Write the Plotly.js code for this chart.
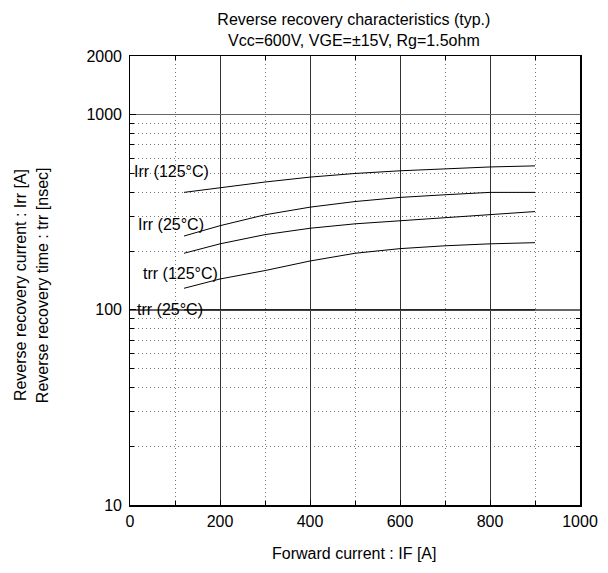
<!DOCTYPE html>
<html><head><meta charset="utf-8">
<script src="https://cdn.plot.ly/plotly-3.0.1.min.js"></script>
<style>body{margin:0;background:#fff}#c{width:608px;height:573px}</style>
</head><body><div id="c"></div>
<script>
const forwardCurrent = [120, 200, 300, 400, 500, 600, 700, 800, 900];
const irr125 = [400, 424, 452, 479, 500, 516, 530, 540, 547];
const irr25 = [239, 270, 307, 336, 359, 377, 389, 400, 400];
const trr125 = [195, 218, 243, 262, 276, 286, 297, 307, 319];
const trr25curve = [129, 144, 159, 178, 195, 206, 213, 218, 221];
const trr25flat = [100, 100, 100, 100, 100, 100, 100, 100, 100];
const yMajor = [10, 100, 1000, 2000];
const yMinor = [20,30,40,50,60,70,80,90,200,300,400,500,600,700,800,900];
const xMajor = [0, 200, 400, 600, 800, 1000];
const xMinor = [100, 300, 500, 700, 900];

const lineStyle = {color: '#000', width: 1};
const traces = [irr125, irr25, trr125, trr25curve, trr25flat].map(v => ({
  x: forwardCurrent, y: v, type: 'scatter', mode: 'lines', line: lineStyle, hoverinfo: 'none', xaxis: 'x', yaxis: 'y'
}));
traces.push({x: [500], y: [100], type: 'scatter', mode: 'markers', marker: {opacity: 0}, xaxis: 'x2', yaxis: 'y2', hoverinfo: 'none'});

const font = {family: 'Liberation Sans, Arial, sans-serif', size: 16, color: '#000'};
const labels = [
  {t: 'Irr (125°C)', x: 5, y: 511},
  {t: 'Irr (25°C)', x: 14, y: 273},
  {t: 'trr (125°C)', x: 25, y: 153},
  {t: 'trr (25°C)', x: 12, y: 100}
];
const annotations = labels.map(l => ({
  text: l.t, x: l.x, y: Math.log10(l.y), xref: 'x', yref: 'y',
  xanchor: 'left', yanchor: 'middle', showarrow: false, font: font
}));
annotations.push({
  text: 'Reverse recovery current : Irr [A]', xref: 'paper', yref: 'paper',
  x: -0.242, y: 0.49, textangle: -90, showarrow: false, font: font, xanchor: 'center', yanchor: 'middle'
});
annotations.push({
  text: 'Reverse recovery time : trr [nsec]', xref: 'paper', yref: 'paper',
  x: -0.193, y: 0.49, textangle: -90, showarrow: false, font: font, xanchor: 'center', yanchor: 'middle'
});
annotations.push({
  text: 'Forward current : IF [A]', xref: 'paper', yref: 'paper',
  x: 0.498, y: -0.107, showarrow: false, font: font, xanchor: 'center', yanchor: 'middle'
});

const yr = [1, Math.log10(2000)];
const layout = {
  width: 608, height: 573,
  margin: {l: 130, r: 28, t: 56, b: 68},
  paper_bgcolor: '#fff', plot_bgcolor: '#fff',
  showlegend: false,
  font: font,
  title: {
    text: 'Reverse recovery characteristics (typ.)<br>Vcc=600V, VGE=±15V, Rg=1.5ohm',
    font: font, x: 0.582, xanchor: 'center', y: 0.9555, yanchor: 'middle', yref: 'container'
  },
  xaxis: {
    range: [0, 1000], tickmode: 'array', tickvals: xMinor, ticktext: xMinor.map(() => ''),
    showgrid: true, gridcolor: '#777', gridwidth: 1, griddash: '1px,3px',
    showline: true, linecolor: '#000', linewidth: 1.5, mirror: 'allticks',
    ticks: 'inside', ticklen: 4, tickcolor: '#000', zeroline: false
  },
  xaxis2: {
    overlaying: 'x', side: 'bottom', range: [0, 1000], tickmode: 'array', tickvals: xMajor, ticktext: xMajor.map(String),
    showgrid: true, gridcolor: '#333', gridwidth: 1,
    showline: false, ticks: 'inside', ticklen: 5, tickcolor: '#000', zeroline: false,
    tickfont: font, anchor: 'y2', ticklabelstandoff: 5
  },
  yaxis: {
    type: 'log', range: yr, tickmode: 'array', tickvals: yMinor, ticktext: yMinor.map(() => ''),
    showgrid: true, gridcolor: '#777', gridwidth: 1, griddash: '1px,3px',
    showline: true, linecolor: '#000', linewidth: 1.5, mirror: 'allticks',
    ticks: 'inside', ticklen: 4, tickcolor: '#000', zeroline: false
  },
  yaxis2: {
    overlaying: 'y', side: 'left', type: 'log', range: yr, tickmode: 'array', tickvals: yMajor, ticktext: yMajor.map(String),
    showgrid: true, gridcolor: '#666', gridwidth: 1.5,
    showline: false, ticks: 'inside', ticklen: 6, tickcolor: '#000', zeroline: false,
    tickfont: font, anchor: 'x2', ticklabelstandoff: 7
  },
  annotations: annotations
};
Plotly.newPlot('c', traces, layout, {displayModeBar: false, staticPlot: true});
</script></body></html>
